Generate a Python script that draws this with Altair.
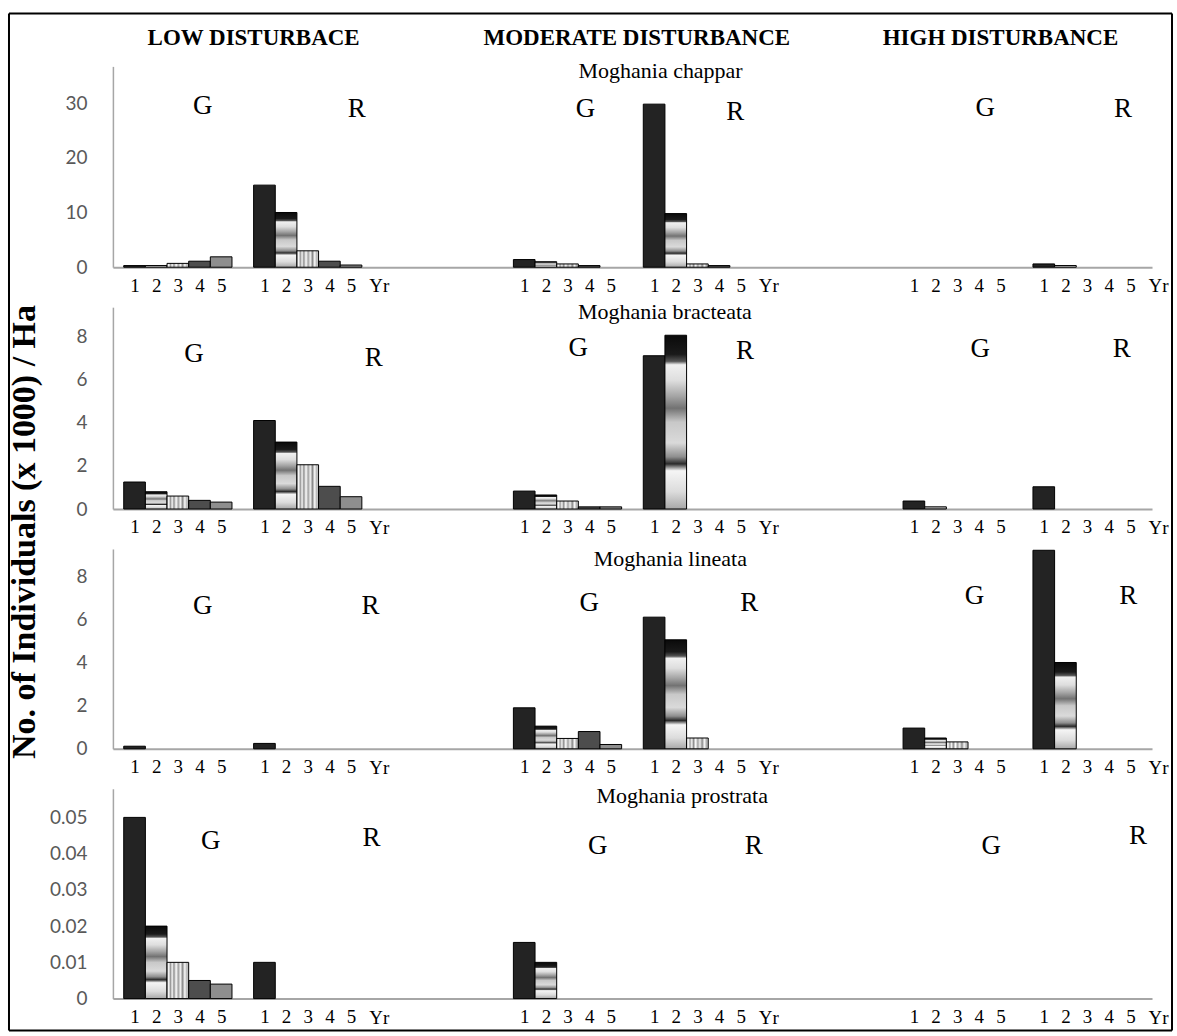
import altair as alt
import pandas as pd

# ---------------- data ----------------
species = ["Moghania chappar", "Moghania bracteata", "Moghania lineata", "Moghania prostrata"]
disturbance = ["LOW DISTURBACE", "MODERATE DISTURBANCE", "HIGH DISTURBANCE"]
types = ["G", "R"]
years = [1, 2, 3, 4, 5]

chappar_low_G = [0.3, 0.3, 0.7, 1.1, 1.9]
chappar_low_R = [15.0, 10.0, 3.0, 1.1, 0.4]
chappar_mod_G = [1.4, 1.0, 0.6, 0.3, 0.0]
chappar_mod_R = [29.8, 9.8, 0.6, 0.3, 0.0]
chappar_high_G = [0.0, 0.0, 0.0, 0.0, 0.0]
chappar_high_R = [0.6, 0.3, 0.0, 0.0, 0.0]

bracteata_low_G = [1.25, 0.8, 0.6, 0.4, 0.32]
bracteata_low_R = [4.1, 3.1, 2.05, 1.05, 0.57]
bracteata_mod_G = [0.83, 0.65, 0.37, 0.1, 0.1]
bracteata_mod_R = [7.1, 8.05, 0.0, 0.0, 0.0]
bracteata_high_G = [0.37, 0.1, 0.0, 0.0, 0.0]
bracteata_high_R = [1.03, 0.0, 0.0, 0.0, 0.0]

lineata_low_G = [0.12, 0.0, 0.0, 0.0, 0.0]
lineata_low_R = [0.25, 0.0, 0.0, 0.0, 0.0]
lineata_mod_G = [1.9, 1.05, 0.48, 0.8, 0.2]
lineata_mod_R = [6.1, 5.05, 0.5, 0.0, 0.0]
lineata_high_G = [0.96, 0.5, 0.32, 0.0, 0.0]
lineata_high_R = [9.2, 4.0, 0.0, 0.0, 0.0]

prostrata_low_G = [0.05, 0.02, 0.01, 0.005, 0.004]
prostrata_low_R = [0.01, 0.0, 0.0, 0.0, 0.0]
prostrata_mod_G = [0.0155, 0.01, 0.0, 0.0, 0.0]
prostrata_mod_R = [0.0, 0.0, 0.0, 0.0, 0.0]
prostrata_high_G = [0.0, 0.0, 0.0, 0.0, 0.0]
prostrata_high_R = [0.0, 0.0, 0.0, 0.0, 0.0]

values = {
    "Moghania chappar": [[chappar_low_G, chappar_low_R], [chappar_mod_G, chappar_mod_R], [chappar_high_G, chappar_high_R]],
    "Moghania bracteata": [[bracteata_low_G, bracteata_low_R], [bracteata_mod_G, bracteata_mod_R], [bracteata_high_G, bracteata_high_R]],
    "Moghania lineata": [[lineata_low_G, lineata_low_R], [lineata_mod_G, lineata_mod_R], [lineata_high_G, lineata_high_R]],
    "Moghania prostrata": [[prostrata_low_G, prostrata_low_R], [prostrata_mod_G, prostrata_mod_R], [prostrata_high_G, prostrata_high_R]],
}

# y-axis per row
row_dmax = [36.7, 9.35, 9.26, 0.0579]
row_ticks = [[0, 10, 20, 30], [0, 2, 4, 6, 8], [0, 2, 4, 6, 8], [0, 0.01, 0.02, 0.03, 0.04, 0.05]]
row_format = ["d", "d", "d", ".2~f"]
row_height = [201, 202, 200, 210]

# annotation placement (x in slot units of the x scale, y offsets in px from plot top)
letter_x = [[4.15, 11.26, 21.83, 28.75, 40.29, 46.66],
            [3.74, 12.05, 21.5, 29.2, 40.06, 46.6],
            [4.15, 11.9, 22.0, 29.4, 39.8, 46.9],
            [4.52, 11.95, 22.4, 29.6, 40.57, 47.35]]
letter_dy = [[40, 43, 43, 46, 42, 43],
             [47, 51, 41, 44, 42, 42],
             [57, 57, 54, 54, 47, 47],
             [52, 49, 57, 57, 57, 47]]
title_x = [25.3, 25.5, 25.75, 26.3]
title_dy = [5, 5, 10, 7]
header_x = [6.5, 24.2, 41.0]

SLOTS = 48
SERIF = "Liberation Serif"

rows = []
for si, sp in enumerate(species):
    for di, d in enumerate(disturbance):
        for ti, t in enumerate(types):
            g = 3 * di + ti
            for yi, yr in enumerate(years):
                x0 = 6 * g + 0.5 + yi
                rows.append({"species": sp, "disturbance": d, "type": t, "year": yr,
                             "value": values[sp][di][ti][yi], "x0": x0, "x1": x0 + 1})
bars_df = pd.DataFrame(rows)

xticks = [6 * g + y for g in [0, 1, 3, 4, 6, 7] for y in years]
yr_x = [6 * g + 6.3 for g in [1, 4, 7]]

# ---------------- fills ----------------
def vgrad(stops):
    return alt.LinearGradient(gradient="linear", x1=0, x2=0, y1=0, y2=1,
                              stops=[alt.GradientStop(color=c, offset=o) for o, c in stops])

def hgrad(stops):
    return alt.LinearGradient(gradient="linear", x1=0, x2=1, y1=0, y2=0,
                              stops=[alt.GradientStop(color=c, offset=o) for o, c in stops])

fills = [
    "#232323",
    vgrad([(0, "#0a0a0a"), (0.11, "#1a1a1a"), (0.15, "#555555"), (0.17, "#f0f0f0"),
           (0.26, "#dedede"), (0.35, "#a5a5a5"), (0.42, "#727272"), (0.5, "#c8c8c8"),
           (0.62, "#dadada"), (0.7, "#8e8e8e"), (0.74, "#2a2a2a"), (0.78, "#f5f5f5"),
           (0.9, "#dcdcdc"), (1, "#a8a8a8")]),
    hgrad([(0, "#cfcfcf"), (0.08, "#fafafa"), (0.16, "#9a9a9a"), (0.24, "#f5f5f5"),
           (0.32, "#8f8f8f"), (0.42, "#ffffff"), (0.52, "#a0a0a0"), (0.62, "#f0f0f0"),
           (0.72, "#8a8a8a"), (0.82, "#f8f8f8"), (0.92, "#b0b0b0"), (1, "#e0e0e0")]),
    "#4d4d4d",
    "#8e8e8e",
]

one = pd.DataFrame({"k": [0]})


def make_row(i):
    h = row_height[i]
    dmax = row_dmax[i]
    xsc = alt.Scale(domain=[0, SLOTS], nice=False, zero=False)
    ysc = alt.Scale(domain=[0, dmax], nice=False, zero=True)
    x_axis = alt.Axis(values=xticks, labelExpr="datum.value % 6", ticks=False, grid=False,
                      labelOverlap=False, labelFlush=False, labelPadding=9,
                      labelFont=SERIF, labelFontSize=19, labelColor="black",
                      domainColor="#a6a6a6", domainWidth=2, title="")
    y_axis = alt.Axis(values=row_ticks[i], format=row_format[i], ticks=False, grid=False,
                      labelPadding=26, labelFont="Lato", labelFontSize=19,
                      labelColor="#595959", domainColor="#a6a6a6", domainWidth=1.5,
                      title="")
    df = bars_df[bars_df.species == species[i]]
    layers = []
    for k, fill in enumerate(fills):
        layers.append(
            alt.Chart(df).transform_filter(f"datum.year == {k + 1} && datum.value > 0")
            .mark_rect(fill=fill, stroke="black", strokeWidth=1)
            .encode(x=alt.X("x0:Q", scale=xsc, axis=x_axis), x2="x1:Q",
                    y=alt.Y("value:Q", scale=ysc, axis=y_axis), y2=alt.datum(0))
        )
    letters = pd.DataFrame({"x0": letter_x[i],
                            "value": [dmax * (1 - dy / h) for dy in letter_dy[i]],
                            "label": types * 3})
    layers.append(
        alt.Chart(letters).mark_text(font=SERIF, fontSize=27, align="center", baseline="middle", color="black")
        .encode(x=alt.X("x0:Q", scale=xsc, axis=x_axis), y=alt.Y("value:Q", scale=ysc, axis=y_axis),
                text="label:N")
    )
    layers.append(
        alt.Chart(pd.DataFrame({"x0": [title_x[i]], "t": [species[i]]}))
        .mark_text(font=SERIF, fontSize=22, align="center", baseline="middle", color="black")
        .encode(x=alt.X("x0:Q", scale=xsc, axis=x_axis), y=alt.value(title_dy[i]), text="t:N")
    )
    layers.append(
        alt.Chart(pd.DataFrame({"x0": yr_x, "t": ["Yr"] * 3}))
        .mark_text(font=SERIF, fontSize=19, align="center", baseline="middle", color="black")
        .encode(x=alt.X("x0:Q", scale=xsc, axis=x_axis), y=alt.value(h + 19), text="t:N")
    )
    # frame segments
    top = -53 if i == 0 else -25
    bottom = 242 if i == 3 else h + 25
    layers.append(alt.Chart(one).mark_rule(color="black", strokeWidth=2)
                  .encode(x=alt.value(-104), y=alt.value(top), y2=alt.value(bottom)))
    layers.append(alt.Chart(one).mark_rule(color="black", strokeWidth=2)
                  .encode(x=alt.value(1060), y=alt.value(top), y2=alt.value(bottom)))
    if i == 0:
        layers.append(alt.Chart(one).mark_rule(color="black", strokeWidth=2)
                      .encode(x=alt.value(-104), x2=alt.value(1060), y=alt.value(-53)))
        layers.append(
            alt.Chart(pd.DataFrame({"x0": header_x, "t": disturbance}))
            .mark_text(font=SERIF, fontSize=23, fontWeight="bold", align="center", baseline="middle", color="black")
            .encode(x=alt.X("x0:Q", scale=xsc, axis=x_axis), y=alt.value(-28), text="t:N")
        )
    if i == 3:
        layers.append(alt.Chart(one).mark_rule(color="black", strokeWidth=2)
                      .encode(x=alt.value(-104), x2=alt.value(1060), y=alt.value(242)))
    if i == 2:
        layers.append(
            alt.Chart(pd.DataFrame({"t": ["No. of Individuals (x 1000) / Ha"]}))
            .mark_text(font=SERIF, fontSize=34, fontWeight="bold", angle=270, align="center",
                       baseline="middle", color="black")
            .encode(x=alt.value(-88), y=alt.value(-17), text="t:N")
        )
    return alt.layer(*layers).properties(width=1040, height=h)


chart = alt.vconcat(*[make_row(i) for i in range(4)], spacing=40, bounds="flush").properties(
    padding={"left": 7, "top": 11, "right": 3, "bottom": 5},
    background="white",
).configure_view(stroke="transparent")

chart.save("out.html", embed_options={"renderer": "svg", "actions": False})
